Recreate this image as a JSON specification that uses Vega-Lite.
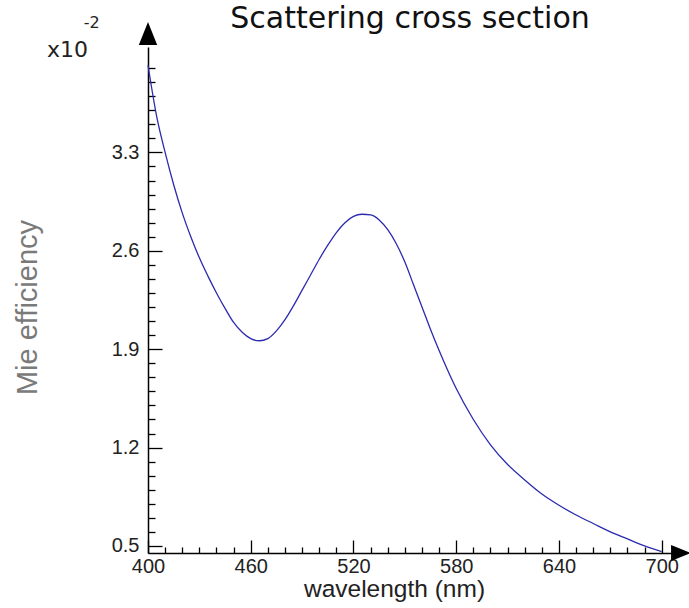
{
  "$schema": "https://vega.github.io/schema/vega-lite/v6.json",
  "autosize": {"type": "none"},
  "width": 524,
  "height": 506,
  "padding": {"left": 148, "top": 47, "right": 17, "bottom": 55},
  "background": "white",
  "config": {
    "view": {"stroke": null},
    "font": "Liberation Sans",
    "axis": {"grid": false, "domainColor": "black", "domainWidth": 1.5, "tickColor": "black", "tickWidth": 1.3, "labelColor": "#222222", "labelFontSize": 20, "labelFont": "Liberation Sans", "titleFont": "Liberation Sans", "titleFontWeight": "normal"}
  },
  "title": {"text": "Scattering cross section", "fontSize": 30, "fontWeight": "normal", "color": "#111111", "font": "DejaVu Sans", "anchor": "middle", "frame": "group", "baseline": "alphabetic", "offset": -10, "dy": 33},
  "encoding": {
    "x": {
      "field": "wl", "type": "quantitative",
      "scale": {"domain": [400, 706], "nice": false, "zero": false},
      "axis": {
        "title": "wavelength (nm)", "titleFontSize": 24.5, "titleColor": "#222222",
        "titleX": 246, "titleY": 36, "titleBaseline": "middle", "titleAlign": "center",
        "values": [400,410,420,430,440,450,460,470,480,490,500,510,520,530,540,550,560,570,580,590,600,610,620,630,640,650,660,670,680,690,700],
        "tickSize": {"condition": {"test": "(datum.value - 400) % 60 === 0", "value": -13}, "value": -6},
        "labelPadding": {"condition": {"test": "(datum.value - 400) % 60 === 0", "value": 16}, "value": 9},
        "labelExpr": "(datum.value - 400) % 60 === 0 ? datum.label : ''",
        "labelFlush": false, "labelOverlap": false
      }
    },
    "y": {
      "field": "eff", "type": "quantitative",
      "scale": {"domain": [0.45, 4.05], "nice": false, "zero": false},
      "axis": {
        "title": "Mie efficiency", "titleFontSize": 29, "titleColor": "#7a7a7a",
        "titleX": -121, "titleY": 260, "titleBaseline": "middle", "titleAlign": "center", "titleAngle": -90,
        "values": [0.5,0.6,0.7,0.8,0.9,1.0,1.1,1.2,1.3,1.4,1.5,1.6,1.7,1.8,1.9,2.0,2.1,2.2,2.3,2.4,2.5,2.6,2.7,2.8,2.9,3.0,3.1,3.2,3.3,3.4,3.5,3.6,3.7,3.8,3.9],
        "tickSize": {"condition": {"test": "abs((datum.value - 0.5) / 0.7 - round((datum.value - 0.5) / 0.7)) < 0.01", "value": -14}, "value": -7},
        "labelPadding": {"condition": {"test": "abs((datum.value - 0.5) / 0.7 - round((datum.value - 0.5) / 0.7)) < 0.01", "value": 23}, "value": 16},
        "labelExpr": "abs((datum.value - 0.5) / 0.7 - round((datum.value - 0.5) / 0.7)) < 0.01 ? format(datum.value, '.1f') : ''",
        "labelFlush": false, "labelOverlap": false
      }
    }
  },
  "layer": [
    {
      "data": {"values": [
        {"wl": 400, "eff": 3.92}, {"wl": 405, "eff": 3.56}, {"wl": 410, "eff": 3.30}, {"wl": 415, "eff": 3.07},
        {"wl": 420, "eff": 2.87}, {"wl": 425, "eff": 2.70}, {"wl": 430, "eff": 2.55}, {"wl": 435, "eff": 2.42},
        {"wl": 440, "eff": 2.30}, {"wl": 445, "eff": 2.19}, {"wl": 450, "eff": 2.09}, {"wl": 455, "eff": 2.02},
        {"wl": 460, "eff": 1.975}, {"wl": 465, "eff": 1.96}, {"wl": 470, "eff": 1.975}, {"wl": 475, "eff": 2.03},
        {"wl": 480, "eff": 2.11}, {"wl": 485, "eff": 2.21}, {"wl": 490, "eff": 2.32}, {"wl": 495, "eff": 2.43},
        {"wl": 500, "eff": 2.54}, {"wl": 505, "eff": 2.64}, {"wl": 510, "eff": 2.73}, {"wl": 515, "eff": 2.80},
        {"wl": 520, "eff": 2.845}, {"wl": 525, "eff": 2.86}, {"wl": 530, "eff": 2.855}, {"wl": 535, "eff": 2.82},
        {"wl": 540, "eff": 2.75}, {"wl": 545, "eff": 2.65}, {"wl": 550, "eff": 2.52}, {"wl": 555, "eff": 2.36},
        {"wl": 560, "eff": 2.20}, {"wl": 565, "eff": 2.04}, {"wl": 570, "eff": 1.89}, {"wl": 575, "eff": 1.75},
        {"wl": 580, "eff": 1.62}, {"wl": 590, "eff": 1.40}, {"wl": 600, "eff": 1.22}, {"wl": 610, "eff": 1.08},
        {"wl": 620, "eff": 0.97}, {"wl": 630, "eff": 0.87}, {"wl": 640, "eff": 0.79}, {"wl": 650, "eff": 0.72},
        {"wl": 660, "eff": 0.66}, {"wl": 670, "eff": 0.60}, {"wl": 680, "eff": 0.55}, {"wl": 690, "eff": 0.50},
        {"wl": 700, "eff": 0.46}
      ]},
      "mark": {"type": "line", "color": "#2b2bb0", "strokeWidth": 1.3, "interpolate": "monotone"}
    },
    {
      "data": {"values": [{"wl": 400, "eff": 4.146}]},
      "mark": {"type": "point", "shape": "M0,-1L-0.8,1L0.8,1Z", "size": 529, "filled": true, "color": "black", "opacity": 1, "strokeWidth": 0, "clip": false}
    },
    {
      "data": {"values": [{"wl": 711.3, "eff": 0.45}]},
      "mark": {"type": "point", "shape": "M1,0L-1,-0.8L-1,0.8Z", "size": 400, "filled": true, "color": "black", "opacity": 1, "strokeWidth": 0, "clip": false}
    },
    {
      "data": {"values": [{"wl": 341.0, "eff": 4.032, "label": "x10"}]},
      "mark": {"type": "text", "align": "left", "baseline": "middle", "fontSize": 22, "font": "DejaVu Sans", "color": "#222222", "clip": false},
      "encoding": {"text": {"field": "label"}}
    },
    {
      "data": {"values": [{"wl": 362.5, "eff": 4.22, "label": "-2"}]},
      "mark": {"type": "text", "align": "left", "baseline": "middle", "fontSize": 16, "font": "DejaVu Sans", "color": "#222222", "clip": false},
      "encoding": {"text": {"field": "label"}}
    }
  ]
}
